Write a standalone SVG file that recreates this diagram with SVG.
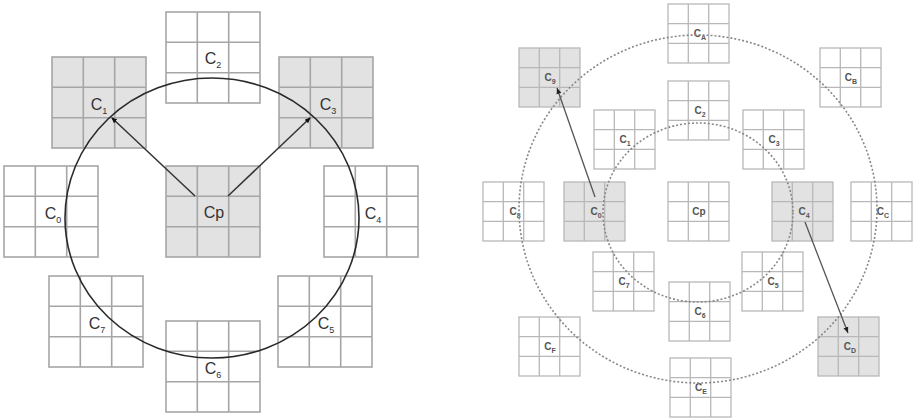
<svg xmlns="http://www.w3.org/2000/svg" xmlns:xlink="http://www.w3.org/1999/xlink" width="918" height="420" viewBox="0 0 918 420">
<style>
.big{fill:#fff;stroke:#a6a6a6;stroke-width:1.6}
.big.sh{fill:#e2e2e2}
.sm{fill:#fff;stroke:#b8b8b8;stroke-width:1.3}
.sm.sh{fill:#e2e2e2}
.lbL{font-family:"Liberation Sans Narrow","Liberation Sans",Arial,sans-serif;font-size:16px;fill:#333;text-anchor:middle}
.lbS{font-family:"Liberation Sans",Arial,sans-serif;font-size:10px;fill:#555;text-anchor:middle;font-weight:bold}
.sub{font-size:9px}
.subS{font-size:7px}
.ring{fill:none;stroke:#2a2a2a;stroke-width:1.6}
.dring{fill:none;stroke:#888;stroke-width:1.6;stroke-dasharray:2 2}
.arr{stroke:#333;stroke-width:1.5;fill:none;marker-end:url(#ah)}
.arr2{stroke:#555;stroke-width:1.3;fill:none;marker-end:url(#ah2)}
</style>
<defs>
<symbol id="gL" viewBox="0 0 94 91" overflow="visible"><rect x="0" y="0" width="94" height="91"/><path d="M31.3 0V91M62.7 0V91M0 30.3H94M0 60.7H94" fill="none"/></symbol>
<symbol id="gS" viewBox="0 0 61 59" overflow="visible"><rect x="0" y="0" width="61" height="59"/><path d="M20.3 0V59M40.7 0V59M0 19.7H61M0 39.3H61" fill="none"/></symbol>
<marker id="ah" markerWidth="8" markerHeight="8" refX="5" refY="4" orient="auto" markerUnits="userSpaceOnUse"><path d="M0 1.5L6 4L0 6.5z" fill="#111"/></marker>
<marker id="ah2" markerWidth="8" markerHeight="8" refX="6" refY="4" orient="auto" markerUnits="userSpaceOnUse"><path d="M0 1.5L6 4L0 6.5z" fill="#222"/></marker>
</defs>
<rect width="918" height="420" fill="#fff"/>
<g id="left-panel">
<g id="L-C2"><use xlink:href="#gL" href="#gL" class="big" x="166" y="12" width="94" height="91"/><text class="lbL" x="213" y="64">C<tspan class="sub" dy="4">2</tspan></text></g>
<g id="L-C1"><use xlink:href="#gL" href="#gL" class="big sh" x="52" y="57" width="94" height="91"/><text class="lbL" x="99" y="110">C<tspan class="sub" dy="4">1</tspan></text></g>
<g id="L-C3"><use xlink:href="#gL" href="#gL" class="big sh" x="279" y="57" width="94" height="91"/><text class="lbL" x="328" y="110">C<tspan class="sub" dy="4">3</tspan></text></g>
<g id="L-C0"><use xlink:href="#gL" href="#gL" class="big" x="4" y="166" width="94" height="91"/><text class="lbL" x="53" y="219">C<tspan class="sub" dy="4">0</tspan></text></g>
<g id="L-Cp"><use xlink:href="#gL" href="#gL" class="big sh" x="166" y="166" width="94" height="91"/><text class="lbL" x="214" y="218">Cp</text></g>
<g id="L-C4"><use xlink:href="#gL" href="#gL" class="big" x="324" y="166" width="94" height="91"/><text class="lbL" x="373" y="219">C<tspan class="sub" dy="4">4</tspan></text></g>
<g id="L-C7"><use xlink:href="#gL" href="#gL" class="big" x="49" y="276" width="94" height="91"/><text class="lbL" x="97" y="329">C<tspan class="sub" dy="4">7</tspan></text></g>
<g id="L-C5"><use xlink:href="#gL" href="#gL" class="big" x="278" y="276" width="94" height="91"/><text class="lbL" x="326" y="329">C<tspan class="sub" dy="4">5</tspan></text></g>
<g id="L-C6"><use xlink:href="#gL" href="#gL" class="big" x="166" y="321" width="94" height="91"/><text class="lbL" x="213" y="374">C<tspan class="sub" dy="4">6</tspan></text></g>
<g id="L-connectors">
<ellipse class="ring" cx="212" cy="218" rx="147" ry="140"/>
<path class="arr" d="M195 196L112 118"/>
<path class="arr" d="M228 196L310 118"/>
</g>
</g>
<g id="right-panel">
<g id="R-CA"><use xlink:href="#gS" href="#gS" class="sm" x="668" y="4" width="61" height="59"/><text class="lbS" x="700" y="37">C<tspan class="subS" dy="3">A</tspan></text></g>
<g id="R-C9"><use xlink:href="#gS" href="#gS" class="sm sh" x="519" y="48" width="61" height="59"/><text class="lbS" x="550" y="81">C<tspan class="subS" dy="3">9</tspan></text></g>
<g id="R-CB"><use xlink:href="#gS" href="#gS" class="sm" x="820" y="48" width="61" height="59"/><text class="lbS" x="851" y="81">C<tspan class="subS" dy="3">B</tspan></text></g>
<g id="R-C2"><use xlink:href="#gS" href="#gS" class="sm" x="668" y="81" width="61" height="59"/><text class="lbS" x="700" y="114">C<tspan class="subS" dy="3">2</tspan></text></g>
<g id="R-C1"><use xlink:href="#gS" href="#gS" class="sm" x="594" y="110" width="61" height="59"/><text class="lbS" x="625" y="143">C<tspan class="subS" dy="3">1</tspan></text></g>
<g id="R-C3"><use xlink:href="#gS" href="#gS" class="sm" x="743" y="110" width="61" height="59"/><text class="lbS" x="774" y="143">C<tspan class="subS" dy="3">3</tspan></text></g>
<g id="R-C8"><use xlink:href="#gS" href="#gS" class="sm" x="483" y="182" width="61" height="59"/><text class="lbS" x="515" y="215">C<tspan class="subS" dy="3">8</tspan></text></g>
<g id="R-C0"><use xlink:href="#gS" href="#gS" class="sm sh" x="564" y="182" width="61" height="59"/><text class="lbS" x="596" y="215">C<tspan class="subS" dy="3">0</tspan></text></g>
<g id="R-Cp"><use xlink:href="#gS" href="#gS" class="sm" x="668" y="182" width="61" height="59"/><text class="lbS" x="699" y="215">Cp</text></g>
<g id="R-C4"><use xlink:href="#gS" href="#gS" class="sm sh" x="772" y="182" width="61" height="59"/><text class="lbS" x="804" y="215">C<tspan class="subS" dy="3">4</tspan></text></g>
<g id="R-CC"><use xlink:href="#gS" href="#gS" class="sm" x="851" y="182" width="61" height="59"/><text class="lbS" x="883" y="215">C<tspan class="subS" dy="3">C</tspan></text></g>
<g id="R-C7"><use xlink:href="#gS" href="#gS" class="sm" x="593" y="252" width="61" height="59"/><text class="lbS" x="624" y="285">C<tspan class="subS" dy="3">7</tspan></text></g>
<g id="R-C5"><use xlink:href="#gS" href="#gS" class="sm" x="742" y="252" width="61" height="59"/><text class="lbS" x="773" y="285">C<tspan class="subS" dy="3">5</tspan></text></g>
<g id="R-C6"><use xlink:href="#gS" href="#gS" class="sm" x="669" y="282" width="61" height="59"/><text class="lbS" x="700" y="315">C<tspan class="subS" dy="3">6</tspan></text></g>
<g id="R-CF"><use xlink:href="#gS" href="#gS" class="sm" x="519" y="317" width="61" height="59"/><text class="lbS" x="550" y="350">C<tspan class="subS" dy="3">F</tspan></text></g>
<g id="R-CD"><use xlink:href="#gS" href="#gS" class="sm sh" x="818" y="317" width="61" height="59"/><text class="lbS" x="850" y="350">C<tspan class="subS" dy="3">D</tspan></text></g>
<g id="R-CE"><use xlink:href="#gS" href="#gS" class="sm" x="670" y="358" width="61" height="59"/><text class="lbS" x="701" y="391">C<tspan class="subS" dy="3">E</tspan></text></g>
<g id="R-connectors">
<ellipse class="dring" cx="698" cy="212.5" rx="95" ry="89.5"/>
<ellipse class="dring" cx="698" cy="209" rx="179" ry="174"/>
<path class="arr2" d="M595 197L557 88"/>
<path class="arr2" d="M805 222L848 333"/>
</g>
</g>
</svg>
